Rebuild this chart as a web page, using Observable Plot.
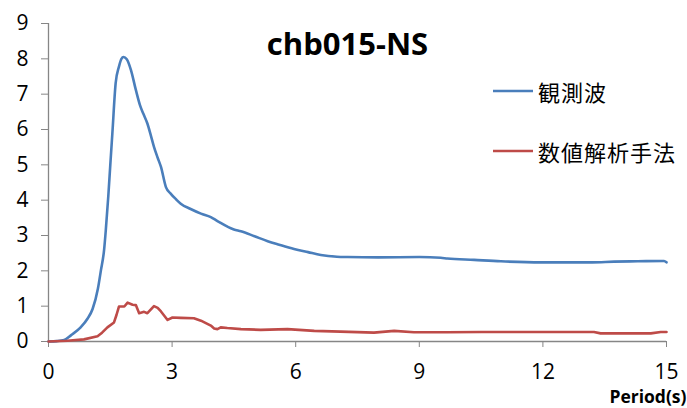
<!DOCTYPE html>
<html><head><meta charset="utf-8">
<script src="https://cdn.jsdelivr.net/npm/d3@7"></script>
<script src="https://cdn.jsdelivr.net/npm/@observablehq/plot@0.6"></script>
<style>
body{margin:0;background:#fff;}
#wrap{position:relative;width:687px;height:408px;font-family:"Open Sans","Noto Sans",sans-serif;}
.leg{position:absolute;left:493px;display:flex;align-items:center;font-family:"Noto Sans CJK JP",sans-serif;font-size:22px;letter-spacing:1px;color:#000;}
.leg svg{margin-right:5px;}
</style></head>
<body><div id="wrap"></div>
<script>
const title = "chb015-NS";
const xLabel = "Period(s)";
const seriesNames = ["観測波", "数値解析手法"];
const seriesColors = ["#4a7ebb", "#be4b48"];
const xTicks = [0, 3, 6, 9, 12, 15];
const yTicks = [0, 1, 2, 3, 4, 5, 6, 7, 8, 9];

const obsX = [0,0.2,0.38,0.55,0.78,0.95,1.07,1.2,1.27,1.35,1.39,1.45,1.5,1.55,1.63,1.71,1.77,1.82,1.9,2.0,2.12,2.22,2.3,2.4,2.48,2.56,2.65,2.73,2.85,2.97,3.1,3.21,3.45,3.7,3.94,4.1,4.5,4.67,5.0,5.32,5.6,5.96,6.3,6.61,7.0,7.26,8,9,9.52,9.68,10.33,10.98,11.95,12.5,13.2,13.73,14.3,14.94,15];
const obsY = [0,0.01,0.04,0.18,0.40,0.65,0.92,1.5,2.0,2.6,3.14,4.09,5.0,5.89,7.31,7.78,8.0,8.05,7.99,7.69,7.12,6.69,6.45,6.17,5.85,5.51,5.2,4.94,4.37,4.18,4.02,3.90,3.75,3.62,3.52,3.41,3.17,3.12,2.98,2.84,2.74,2.62,2.53,2.45,2.40,2.39,2.38,2.39,2.37,2.35,2.31,2.27,2.24,2.24,2.24,2.26,2.27,2.28,2.24];

const simX = [0,0.46,0.86,1.19,1.3,1.43,1.59,1.65,1.71,1.84,1.92,2.04,2.12,2.2,2.32,2.4,2.48,2.56,2.65,2.73,2.89,3.01,3.21,3.53,3.7,3.94,4.02,4.1,4.18,4.34,4.67,5.15,5.8,6.45,7.09,7.9,8.39,8.87,9.68,10.5,11.5,12.5,13.24,13.4,14.62,14.86,15];
const simY = [0,0.02,0.06,0.15,0.25,0.40,0.54,0.75,0.99,0.99,1.10,1.04,1.03,0.80,0.84,0.80,0.9,1.0,0.95,0.85,0.61,0.68,0.67,0.66,0.59,0.45,0.37,0.35,0.40,0.38,0.35,0.33,0.35,0.30,0.28,0.25,0.30,0.26,0.26,0.27,0.27,0.27,0.27,0.23,0.23,0.27,0.27];

const obs = obsX.map((x, i) => ({x, y: obsY[i]}));
const sim = simX.map((x, i) => ({x, y: simY[i]}));
const axisColor = "#868686";

const chart = Plot.plot({
  width: 687, height: 408,
  marginLeft: 48, marginRight: 21, marginTop: 23, marginBottom: 67,
  style: {fontFamily: "'Open Sans', sans-serif", fontSize: "21px", color: "#000", background: "#fff", overflow: "visible"},
  x: {domain: [0, 15], ticks: xTicks, label: null},
  y: {domain: [0, 9], ticks: yTicks, label: null},
  marks: [
    Plot.ruleX([0], {stroke: axisColor, strokeWidth: 1.3}),
    Plot.ruleY([0], {stroke: axisColor, strokeWidth: 1.3}),
    Plot.axisY({ticks: yTicks, tickSize: 7, tickPadding: 13, stroke: axisColor, strokeOpacity: 1, fill: "#000", fontSize: 21}),
    Plot.axisX({ticks: xTicks, tickSize: 6, tickPadding: 17, stroke: axisColor, strokeOpacity: 1, fill: "#000", fontSize: 21}),
    Plot.line(obs, {x: "x", y: "y", stroke: seriesColors[0], strokeWidth: 2.6, curve: "monotone-x"}),
    Plot.line(sim, {x: "x", y: "y", stroke: seriesColors[1], strokeWidth: 2.6, curve: "linear"}),
    Plot.text([title], {frameAnchor: "top", dy: 9, fontSize: 31, fontWeight: "bold", fill: "#000", dx: -10}),
    Plot.text([xLabel], {frameAnchor: "bottom-right", dy: 61, dx: 20, textAnchor: "end", fontSize: 17.5, fontWeight: "bold", fill: "#000"})
  ]
});
const wrap = document.getElementById("wrap");
wrap.appendChild(chart);
const legTops = [75, 135];
seriesNames.forEach((name, i) => {
  const d = document.createElement("div");
  d.className = "leg";
  d.style.top = legTops[i] + "px";
  d.innerHTML = `<svg width="40" height="28"><line x1="0" x2="40" y1="14" y2="14" stroke="${seriesColors[i]}" stroke-width="2.6"/></svg><span>${name}</span>`;
  wrap.appendChild(d);
});
</script></body></html>
